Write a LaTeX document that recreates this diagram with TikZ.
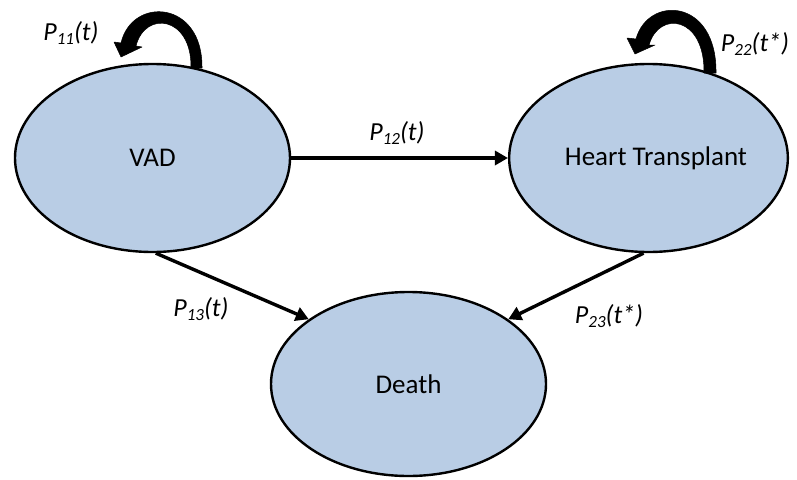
\documentclass[tikz,border=0pt]{standalone}
\usepackage{fontspec}
\setmainfont{Carlito}
\usetikzlibrary{arrows.meta,shapes.geometric}
\definecolor{statefill}{HTML}{B9CDE5}
\tikzset{
  state/.style={ellipse, draw=black, line width=2.4pt, fill=statefill,
    minimum width=275pt, minimum height=188pt, inner sep=0pt,
    font=\fontsize{27}{32}\selectfont},
  trans/.style={line width=3.4pt, -{Triangle[length=13pt,width=14pt]}},
  loopshape/.style={fill=black, draw=black, line width=0.5pt, line join=round},
  prob/.style={font=\fontsize{26}{30}\selectfont\itshape, inner sep=0pt}
}
% probability label with a small, slightly lowered index
\newcommand{\pr}[2]{P\raisebox{-0.3ex}{\fontsize{17}{20}\selectfont #1}(#2)}
\begin{document}
\begin{tikzpicture}[x=1pt,y=-1pt]
\useasboundingbox (0,0) rectangle (797,479);
\node[state] (vad) at (152.5,158) {VAD};
\node[state] (ht) at (648.5,158) {\hspace*{15pt}Heart Transplant};
\node[state, minimum height=184pt] (death) at (408.5,384) {Death};

\draw[trans] (vad.east) -- (ht.west);
\draw[trans] (vad.-88) -- (death.147);
\draw[trans] (ht.-93) -- (death.33);

% self-transition on VAD: tapering curved arrow
\fill[loopshape] (202,68) .. controls (203,0) and (132,-4) .. (121,43)
  -- (114,42) -- (121,57) -- (142,47) -- (136,46)
  .. controls (145,10) and (192,16) .. (191,68) -- cycle;
% self-transition on Heart Transplant
\fill[loopshape] (716,73) .. controls (717,-2) and (648,-5) .. (636,39)
  -- (627,38) -- (635,54) -- (655,45) -- (649,45)
  .. controls (659,10) and (705,16) .. (704,73) -- cycle;

\node[prob] (p11) at (71,33) {\pr{11}{t}};
\node[prob] (p22) at (755,44) {\pr{22}{t*}};
\node[prob] (p12) at (397,133) {\pr{12}{t}};
\node[prob] (p13) at (201,309) {\pr{13}{t}};
\node[prob] (p23) at (609,316) {\pr{23}{t*}};
\end{tikzpicture}
\end{document}
